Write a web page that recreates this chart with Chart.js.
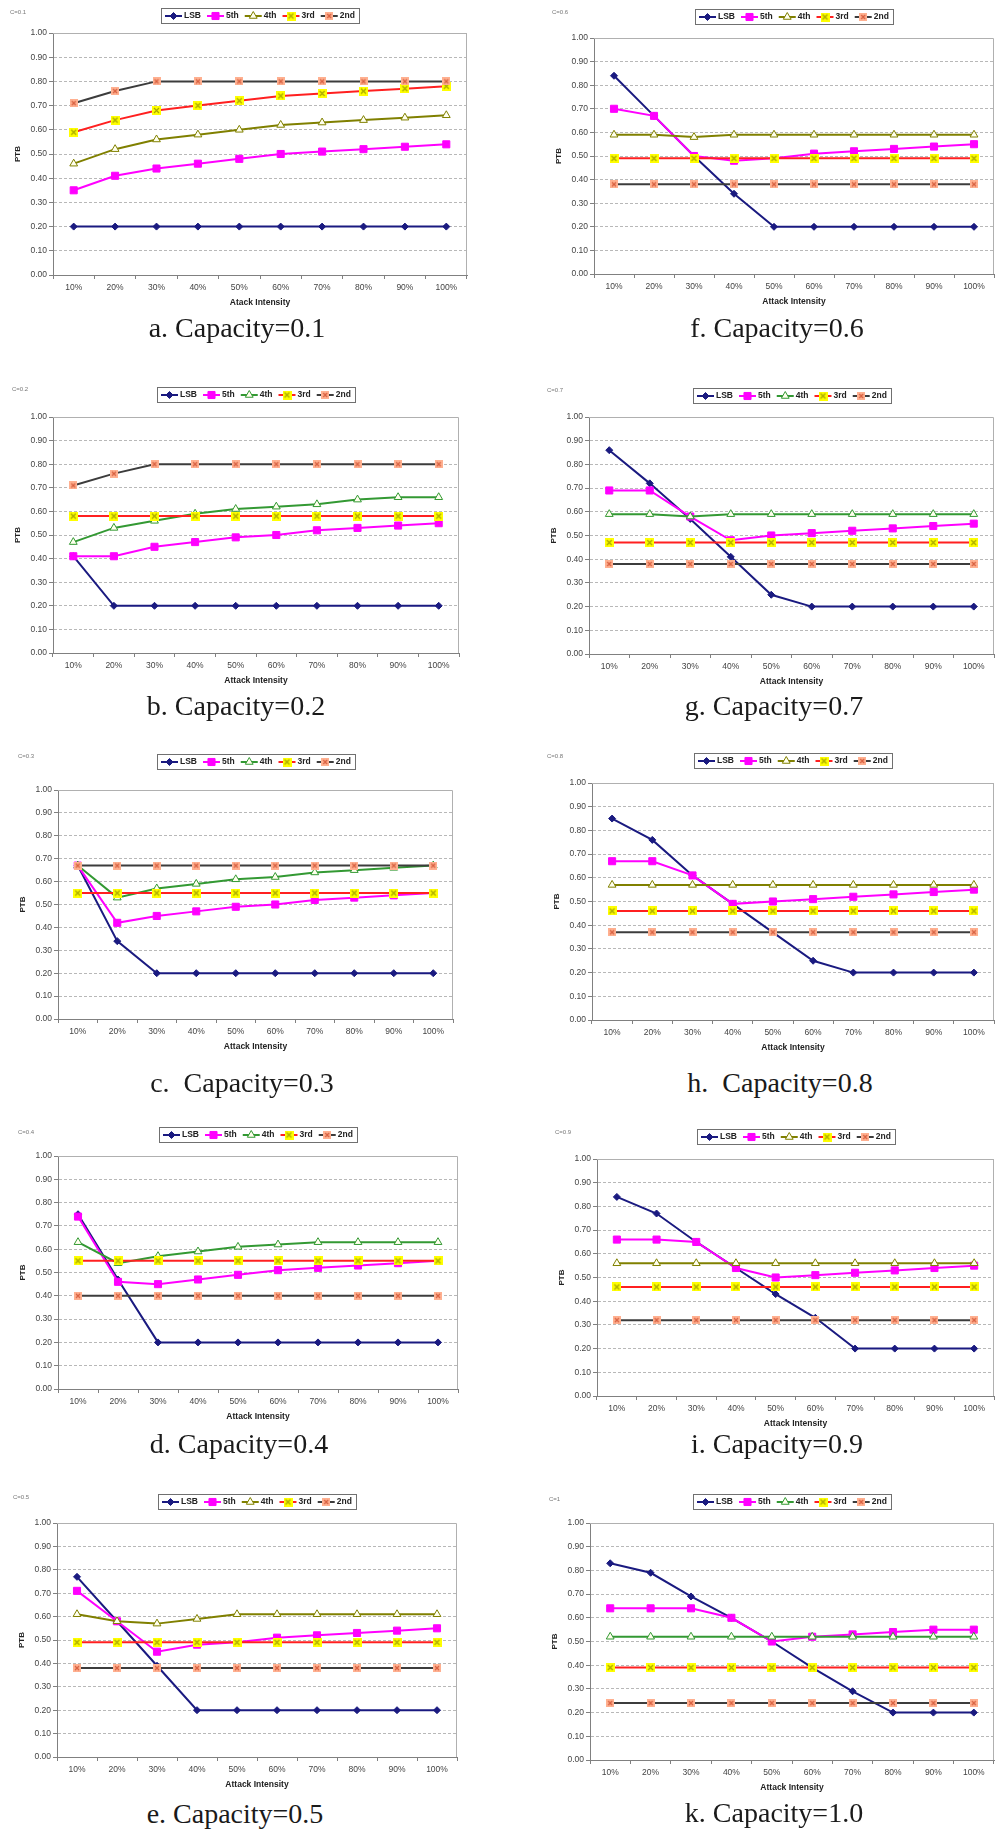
<!DOCTYPE html>
<html>
<head>
<meta charset="utf-8">
<script src="https://cdn.jsdelivr.net/npm/chart.js@4/dist/chart.umd.min.js"></script>
<style>
  html, body { margin: 0; padding: 0; background: #fff; overflow: hidden; }
  body { position: relative; width: 997px; height: 1832px; }
  canvas { position: absolute; }
  .cap { position: absolute; width: 320px; text-align: center; white-space: pre;
         font-family: 'Liberation Serif', 'Times New Roman', serif; font-size: 28px; line-height: 28px; color: #1a1a1a; }
  .tag { position: absolute; font-family: 'Liberation Sans', Arial, sans-serif; font-size: 6px; color: #777; }
</style>
</head>
<body>
<script>
// categories and series names
const attackLabels = ['10%', '20%', '30%', '40%', '50%', '60%', '70%', '80%', '90%', '100%'];
const seriesNames = ['LSB', '5th', '4th', '3rd', '2nd'];
const captions = ['a. Capacity=0.1', 'b. Capacity=0.2', 'c.  Capacity=0.3', 'd. Capacity=0.4', 'e. Capacity=0.5',
                  'f. Capacity=0.6', 'g. Capacity=0.7', 'h.  Capacity=0.8', 'i. Capacity=0.9', 'k. Capacity=1.0'];
const tags = ['C=0.1', 'C=0.2', 'C=0.3', 'C=0.4', 'C=0.5', 'C=0.6', 'C=0.7', 'C=0.8', 'C=0.9', 'C=1'];
const yTicks = [0, 0.1, 0.2, 0.3, 0.4, 0.5, 0.6, 0.7, 0.8, 0.9, 1.0];

// capacity 0.1
const c01LSB    = [0.20, 0.20, 0.20, 0.20, 0.20, 0.20, 0.20, 0.20, 0.20, 0.20];
const c01Fifth  = [0.35, 0.41, 0.44, 0.46, 0.48, 0.50, 0.51, 0.52, 0.53, 0.54];
const c01Fourth = [0.46, 0.52, 0.56, 0.58, 0.60, 0.62, 0.63, 0.64, 0.65, 0.66];
const c01Third  = [0.59, 0.64, 0.68, 0.70, 0.72, 0.74, 0.75, 0.76, 0.77, 0.78];
const c01Second = [0.71, 0.76, 0.80, 0.80, 0.80, 0.80, 0.80, 0.80, 0.80, 0.80];
// capacity 0.2
const c02LSB    = [0.41, 0.20, 0.20, 0.20, 0.20, 0.20, 0.20, 0.20, 0.20, 0.20];
const c02Fifth  = [0.41, 0.41, 0.45, 0.47, 0.49, 0.50, 0.52, 0.53, 0.54, 0.55];
const c02Fourth = [0.47, 0.53, 0.56, 0.59, 0.61, 0.62, 0.63, 0.65, 0.66, 0.66];
const c02Third  = [0.58, 0.58, 0.58, 0.58, 0.58, 0.58, 0.58, 0.58, 0.58, 0.58];
const c02Second = [0.71, 0.76, 0.80, 0.80, 0.80, 0.80, 0.80, 0.80, 0.80, 0.80];
// capacity 0.3
const c03LSB    = [0.67, 0.34, 0.20, 0.20, 0.20, 0.20, 0.20, 0.20, 0.20, 0.20];
const c03Fifth  = [0.67, 0.42, 0.45, 0.47, 0.49, 0.50, 0.52, 0.53, 0.54, 0.55];
const c03Fourth = [0.67, 0.53, 0.57, 0.59, 0.61, 0.62, 0.64, 0.65, 0.66, 0.67];
const c03Third  = [0.55, 0.55, 0.55, 0.55, 0.55, 0.55, 0.55, 0.55, 0.55, 0.55];
const c03Second = [0.67, 0.67, 0.67, 0.67, 0.67, 0.67, 0.67, 0.67, 0.67, 0.67];
// capacity 0.4
const c04LSB    = [0.75, 0.47, 0.20, 0.20, 0.20, 0.20, 0.20, 0.20, 0.20, 0.20];
const c04Fifth  = [0.74, 0.46, 0.45, 0.47, 0.49, 0.51, 0.52, 0.53, 0.54, 0.55];
const c04Fourth = [0.63, 0.54, 0.57, 0.59, 0.61, 0.62, 0.63, 0.63, 0.63, 0.63];
const c04Third  = [0.55, 0.55, 0.55, 0.55, 0.55, 0.55, 0.55, 0.55, 0.55, 0.55];
const c04Second = [0.40, 0.40, 0.40, 0.40, 0.40, 0.40, 0.40, 0.40, 0.40, 0.40];
// capacity 0.5
const c05LSB    = [0.77, 0.58, 0.39, 0.20, 0.20, 0.20, 0.20, 0.20, 0.20, 0.20];
const c05Fifth  = [0.71, 0.58, 0.45, 0.48, 0.49, 0.51, 0.52, 0.53, 0.54, 0.55];
const c05Fourth = [0.61, 0.58, 0.57, 0.59, 0.61, 0.61, 0.61, 0.61, 0.61, 0.61];
const c05Third  = [0.49, 0.49, 0.49, 0.49, 0.49, 0.49, 0.49, 0.49, 0.49, 0.49];
const c05Second = [0.38, 0.38, 0.38, 0.38, 0.38, 0.38, 0.38, 0.38, 0.38, 0.38];
// capacity 0.6
const c06LSB    = [0.84, 0.67, 0.50, 0.34, 0.20, 0.20, 0.20, 0.20, 0.20, 0.20];
const c06Fifth  = [0.70, 0.67, 0.50, 0.48, 0.49, 0.51, 0.52, 0.53, 0.54, 0.55];
const c06Fourth = [0.59, 0.59, 0.58, 0.59, 0.59, 0.59, 0.59, 0.59, 0.59, 0.59];
const c06Third  = [0.49, 0.49, 0.49, 0.49, 0.49, 0.49, 0.49, 0.49, 0.49, 0.49];
const c06Second = [0.38, 0.38, 0.38, 0.38, 0.38, 0.38, 0.38, 0.38, 0.38, 0.38];
// capacity 0.7
const c07LSB    = [0.86, 0.72, 0.57, 0.41, 0.25, 0.20, 0.20, 0.20, 0.20, 0.20];
const c07Fifth  = [0.69, 0.69, 0.58, 0.48, 0.50, 0.51, 0.52, 0.53, 0.54, 0.55];
const c07Fourth = [0.59, 0.59, 0.58, 0.59, 0.59, 0.59, 0.59, 0.59, 0.59, 0.59];
const c07Third  = [0.47, 0.47, 0.47, 0.47, 0.47, 0.47, 0.47, 0.47, 0.47, 0.47];
const c07Second = [0.38, 0.38, 0.38, 0.38, 0.38, 0.38, 0.38, 0.38, 0.38, 0.38];
// capacity 0.8
const c08LSB    = [0.85, 0.76, 0.61, 0.49, 0.37, 0.25, 0.20, 0.20, 0.20, 0.20];
const c08Fifth  = [0.67, 0.67, 0.61, 0.49, 0.50, 0.51, 0.52, 0.53, 0.54, 0.55];
const c08Fourth = [0.57, 0.57, 0.57, 0.57, 0.57, 0.57, 0.57, 0.57, 0.57, 0.57];
const c08Third  = [0.46, 0.46, 0.46, 0.46, 0.46, 0.46, 0.46, 0.46, 0.46, 0.46];
const c08Second = [0.37, 0.37, 0.37, 0.37, 0.37, 0.37, 0.37, 0.37, 0.37, 0.37];
// capacity 0.9
const c09LSB    = [0.84, 0.77, 0.65, 0.54, 0.43, 0.33, 0.20, 0.20, 0.20, 0.20];
const c09Fifth  = [0.66, 0.66, 0.65, 0.54, 0.50, 0.51, 0.52, 0.53, 0.54, 0.55];
const c09Fourth = [0.56, 0.56, 0.56, 0.56, 0.56, 0.56, 0.56, 0.56, 0.56, 0.56];
const c09Third  = [0.46, 0.46, 0.46, 0.46, 0.46, 0.46, 0.46, 0.46, 0.46, 0.46];
const c09Second = [0.32, 0.32, 0.32, 0.32, 0.32, 0.32, 0.32, 0.32, 0.32, 0.32];
// capacity 1.0
const c10LSB    = [0.83, 0.79, 0.69, 0.60, 0.50, 0.39, 0.29, 0.20, 0.20, 0.20];
const c10Fifth  = [0.64, 0.64, 0.64, 0.60, 0.50, 0.52, 0.53, 0.54, 0.55, 0.55];
const c10Fourth = [0.52, 0.52, 0.52, 0.52, 0.52, 0.52, 0.52, 0.52, 0.52, 0.52];
const c10Third  = [0.39, 0.39, 0.39, 0.39, 0.39, 0.39, 0.39, 0.39, 0.39, 0.39];
const c10Second = [0.24, 0.24, 0.24, 0.24, 0.24, 0.24, 0.24, 0.24, 0.24, 0.24];

const chartSeries = [
  [c01LSB, c01Fifth, c01Fourth, c01Third, c01Second],
  [c02LSB, c02Fifth, c02Fourth, c02Third, c02Second],
  [c03LSB, c03Fifth, c03Fourth, c03Third, c03Second],
  [c04LSB, c04Fifth, c04Fourth, c04Third, c04Second],
  [c05LSB, c05Fifth, c05Fourth, c05Third, c05Second],
  [c06LSB, c06Fifth, c06Fourth, c06Third, c06Second],
  [c07LSB, c07Fifth, c07Fourth, c07Third, c07Second],
  [c08LSB, c08Fifth, c08Fourth, c08Third, c08Second],
  [c09LSB, c09Fifth, c09Fourth, c09Third, c09Second],
  [c10LSB, c10Fifth, c10Fourth, c10Third, c10Second]
];

// layout of each panel (page pixels): plot area, legend top, tag, caption centre/baseline
const panels = [
  { cx: 0,   cy: 0,    plot: [53, 33, 467, 275],    legendTop: 8,    tag: [10, 9],      cap: [237, 337],  xTitle: 'Atack Intensity', olive: true },
  { cx: 0,   cy: 370,  plot: [53, 417, 459, 653],   legendTop: 387,  tag: [12, 386],    cap: [236, 715],  xTitle: 'Attack Intensity', olive: false },
  { cx: 0,   cy: 730,  plot: [58, 790, 453, 1019],  legendTop: 754,  tag: [18, 753],    cap: [242, 1092], xTitle: 'Attack Intensity', olive: false },
  { cx: 0,   cy: 1100, plot: [58, 1156, 458, 1389], legendTop: 1127, tag: [18, 1129],   cap: [239, 1453], xTitle: 'Attack Intensity', olive: false },
  { cx: 0,   cy: 1470, plot: [57, 1523, 457, 1757], legendTop: 1494, tag: [13, 1494],   cap: [235, 1823], xTitle: 'Attack Intensity', olive: true },
  { cx: 497, cy: 0,    plot: [594, 38, 998, 274],   legendTop: 9,    tag: [552, 9],     cap: [777, 337],  xTitle: 'Attack Intensity', olive: true },
  { cx: 497, cy: 370,  plot: [589, 417, 998, 654],  legendTop: 388,  tag: [547, 387],   cap: [774, 715],  xTitle: 'Attack Intensity', olive: false },
  { cx: 497, cy: 730,  plot: [592, 783, 998, 1020], legendTop: 753,  tag: [547, 753],   cap: [780, 1092], xTitle: 'Attack Intensity', olive: true },
  { cx: 497, cy: 1100, plot: [597, 1159, 998, 1396], legendTop: 1129, tag: [555, 1129], cap: [777, 1453], xTitle: 'Attack Intensity', olive: true },
  { cx: 497, cy: 1470, plot: [590, 1523, 998, 1760], legendTop: 1494, tag: [549, 1496], cap: [774, 1822], xTitle: 'Attack Intensity', olive: false }
];

const FONT = "'Liberation Sans', Arial, sans-serif";
const Y_W = 40, X_H = 33;

function xMarker(size, fill, stroke) {
  const c = document.createElement('canvas');
  c.width = size; c.height = size;
  const g = c.getContext('2d');
  g.fillStyle = fill;
  g.fillRect(0, 0, size, size);
  g.strokeStyle = stroke;
  g.lineWidth = 1.3;
  g.beginPath();
  g.moveTo(2, 2); g.lineTo(size - 2, size - 2);
  g.moveTo(size - 2, 2); g.lineTo(2, size - 2);
  g.stroke();
  return c;
}
const yellowX = xMarker(9, '#ffff00', '#a8a800');
const salmonX = xMarker(8, '#ffb090', '#d86040');

function seriesStyle(i, olive) {
  const fourth = olive ? '#808000' : '#339933';
  return [
    { borderColor: '#1a1a80', pointStyle: 'rectRot', pointRadius: 3.5, pointBackgroundColor: '#1a1a80', pointBorderColor: '#1a1a80', pointBorderWidth: 1 },
    { borderColor: '#ff00ff', pointStyle: 'rect', pointRadius: 5, pointBackgroundColor: '#ff00ff', pointBorderColor: '#ff00ff', pointBorderWidth: 1 },
    { borderColor: fourth, pointStyle: 'triangle', pointRadius: 4.5, pointBackgroundColor: '#ffffee', pointBorderColor: fourth, pointBorderWidth: 1 },
    { borderColor: '#ff2020', pointStyle: yellowX, pointRadius: 4.5, pointBackgroundColor: '#ffff00', pointBorderColor: '#ffff00', pointBorderWidth: 0 },
    { borderColor: '#3c3c3c', pointStyle: salmonX, pointRadius: 4, pointBackgroundColor: '#ffb090', pointBorderColor: '#ffb090', pointBorderWidth: 0 }
  ][i];
}

// legend drawn as an Excel-like box above the plot
const boxLegend = {
  id: 'boxLegend',
  afterDraw(chart, args, opts) {
    const ctx = chart.ctx;
    const ds = chart.data.datasets;
    const lineLen = 17, gap = 2, spacing = 6, pad = 4, h = 15;
    ctx.save();
    ctx.font = 'bold 8.5px ' + FONT;
    const widths = ds.map(d => ctx.measureText(d.label).width);
    let total = pad * 2;
    widths.forEach((w, i) => { total += lineLen + gap + w + (i ? spacing : 0); });
    const area = chart.chartArea;
    const x = Math.round((area.left + area.right) / 2 - total / 2);
    const y = opts.top;
    ctx.fillStyle = '#fff';
    ctx.fillRect(x, y, total, h);
    ctx.strokeStyle = '#707070';
    ctx.lineWidth = 1;
    ctx.strokeRect(x + 0.5, y + 0.5, Math.round(total), h);
    let px = x + pad;
    const py = y + h / 2 + 0.5;
    ds.forEach((d, i) => {
      ctx.strokeStyle = d.borderColor;
      ctx.lineWidth = 2;
      ctx.beginPath(); ctx.moveTo(px, py); ctx.lineTo(px + lineLen, py); ctx.stroke();
      ctx.fillStyle = d.pointBackgroundColor;
      ctx.strokeStyle = d.pointBorderColor;
      ctx.lineWidth = d.pointBorderWidth;
      Chart.helpers.drawPoint(ctx, { pointStyle: d.pointStyle, radius: d.pointRadius, borderWidth: d.pointBorderWidth, rotation: 0 }, px + lineLen / 2, py);
      px += lineLen + gap;
      ctx.fillStyle = '#222';
      ctx.textBaseline = 'middle';
      ctx.textAlign = 'left';
      ctx.fillText(d.label, px, py);
      px += widths[i] + spacing;
    });
    ctx.restore();
  }
};

// light plot-area border on top and right
const plotBorder = {
  id: 'plotBorder',
  beforeDatasetsDraw(chart) {
    const { ctx, chartArea: a } = chart;
    ctx.save();
    ctx.strokeStyle = '#b0b0b0';
    ctx.lineWidth = 1;
    ctx.beginPath();
    ctx.moveTo(a.left, a.top + 0.5); ctx.lineTo(a.right - 0.5, a.top + 0.5); ctx.lineTo(a.right - 0.5, a.bottom);
    ctx.stroke();
    ctx.restore();
  }
};

panels.forEach((p, k) => {
  const [pl, pt, pr, pb] = p.plot;
  const w = p.cx === 0 ? 497 : 503;
  const h = pb + 40 - p.cy;
  const canvas = document.createElement('canvas');
  canvas.width = w; canvas.height = h;
  canvas.style.left = p.cx + 'px'; canvas.style.top = p.cy + 'px';
  canvas.style.width = w + 'px'; canvas.style.height = h + 'px';
  document.body.appendChild(canvas);

  const tag = document.createElement('div');
  tag.className = 'tag';
  tag.textContent = tags[k];
  tag.style.left = p.tag[0] + 'px'; tag.style.top = p.tag[1] + 'px';
  document.body.appendChild(tag);

  const cap = document.createElement('div');
  cap.className = 'cap';
  cap.textContent = captions[k];
  cap.style.left = (p.cap[0] - 160) + 'px';
  cap.style.top = (p.cap[1] - 23) + 'px';
  document.body.appendChild(cap);

  const datasets = chartSeries[k].map((vals, i) => Object.assign({
    label: seriesNames[i],
    data: vals,
    borderWidth: 2,
    tension: 0,
    fill: false,
    order: 5 - i
  }, seriesStyle(i, p.olive)));

  new Chart(canvas.getContext('2d'), {
    type: 'line',
    data: { labels: attackLabels, datasets: datasets },
    plugins: [boxLegend, plotBorder],
    options: {
      responsive: false,
      animation: false,
      devicePixelRatio: 1,
      layout: { padding: { left: pl - p.cx - Y_W, right: p.cx + w - pr, top: pt - p.cy, bottom: h - (pb - p.cy) - X_H } },
      plugins: {
        legend: { display: false },
        tooltip: { enabled: false },
        boxLegend: { top: p.legendTop - p.cy }
      },
      scales: {
        x: {
          offset: true,
          grid: { offset: true, drawOnChartArea: false, tickLength: 4, color: '#808080' },
          border: { color: '#808080' },
          ticks: { autoSkip: false, maxRotation: 0, padding: 4, color: '#444', font: { family: FONT, size: 8.5 } },
          title: { display: true, text: p.xTitle, color: '#222', padding: 0, font: { family: FONT, size: 8.5, weight: 'bold' } },
          afterFit: s => { s.height = X_H; }
        },
        y: {
          min: yTicks[0],
          max: yTicks[yTicks.length - 1],
          afterBuildTicks: s => { s.ticks = yTicks.map(v => ({ value: v })); },
          grid: { color: '#b8b8b8', tickColor: '#808080', tickLength: 4 },
          border: { color: '#808080', dash: [3, 2] },
          ticks: { padding: 2, color: '#444', font: { family: FONT, size: 8.5 }, callback: v => Number(v).toFixed(2) },
          title: { display: true, text: 'PTB', color: '#222', padding: 0, font: { family: FONT, size: 8, weight: 'bold' } },
          afterFit: s => { s.width = Y_W; }
        }
      }
    }
  });
});
</script>
</body>
</html>
